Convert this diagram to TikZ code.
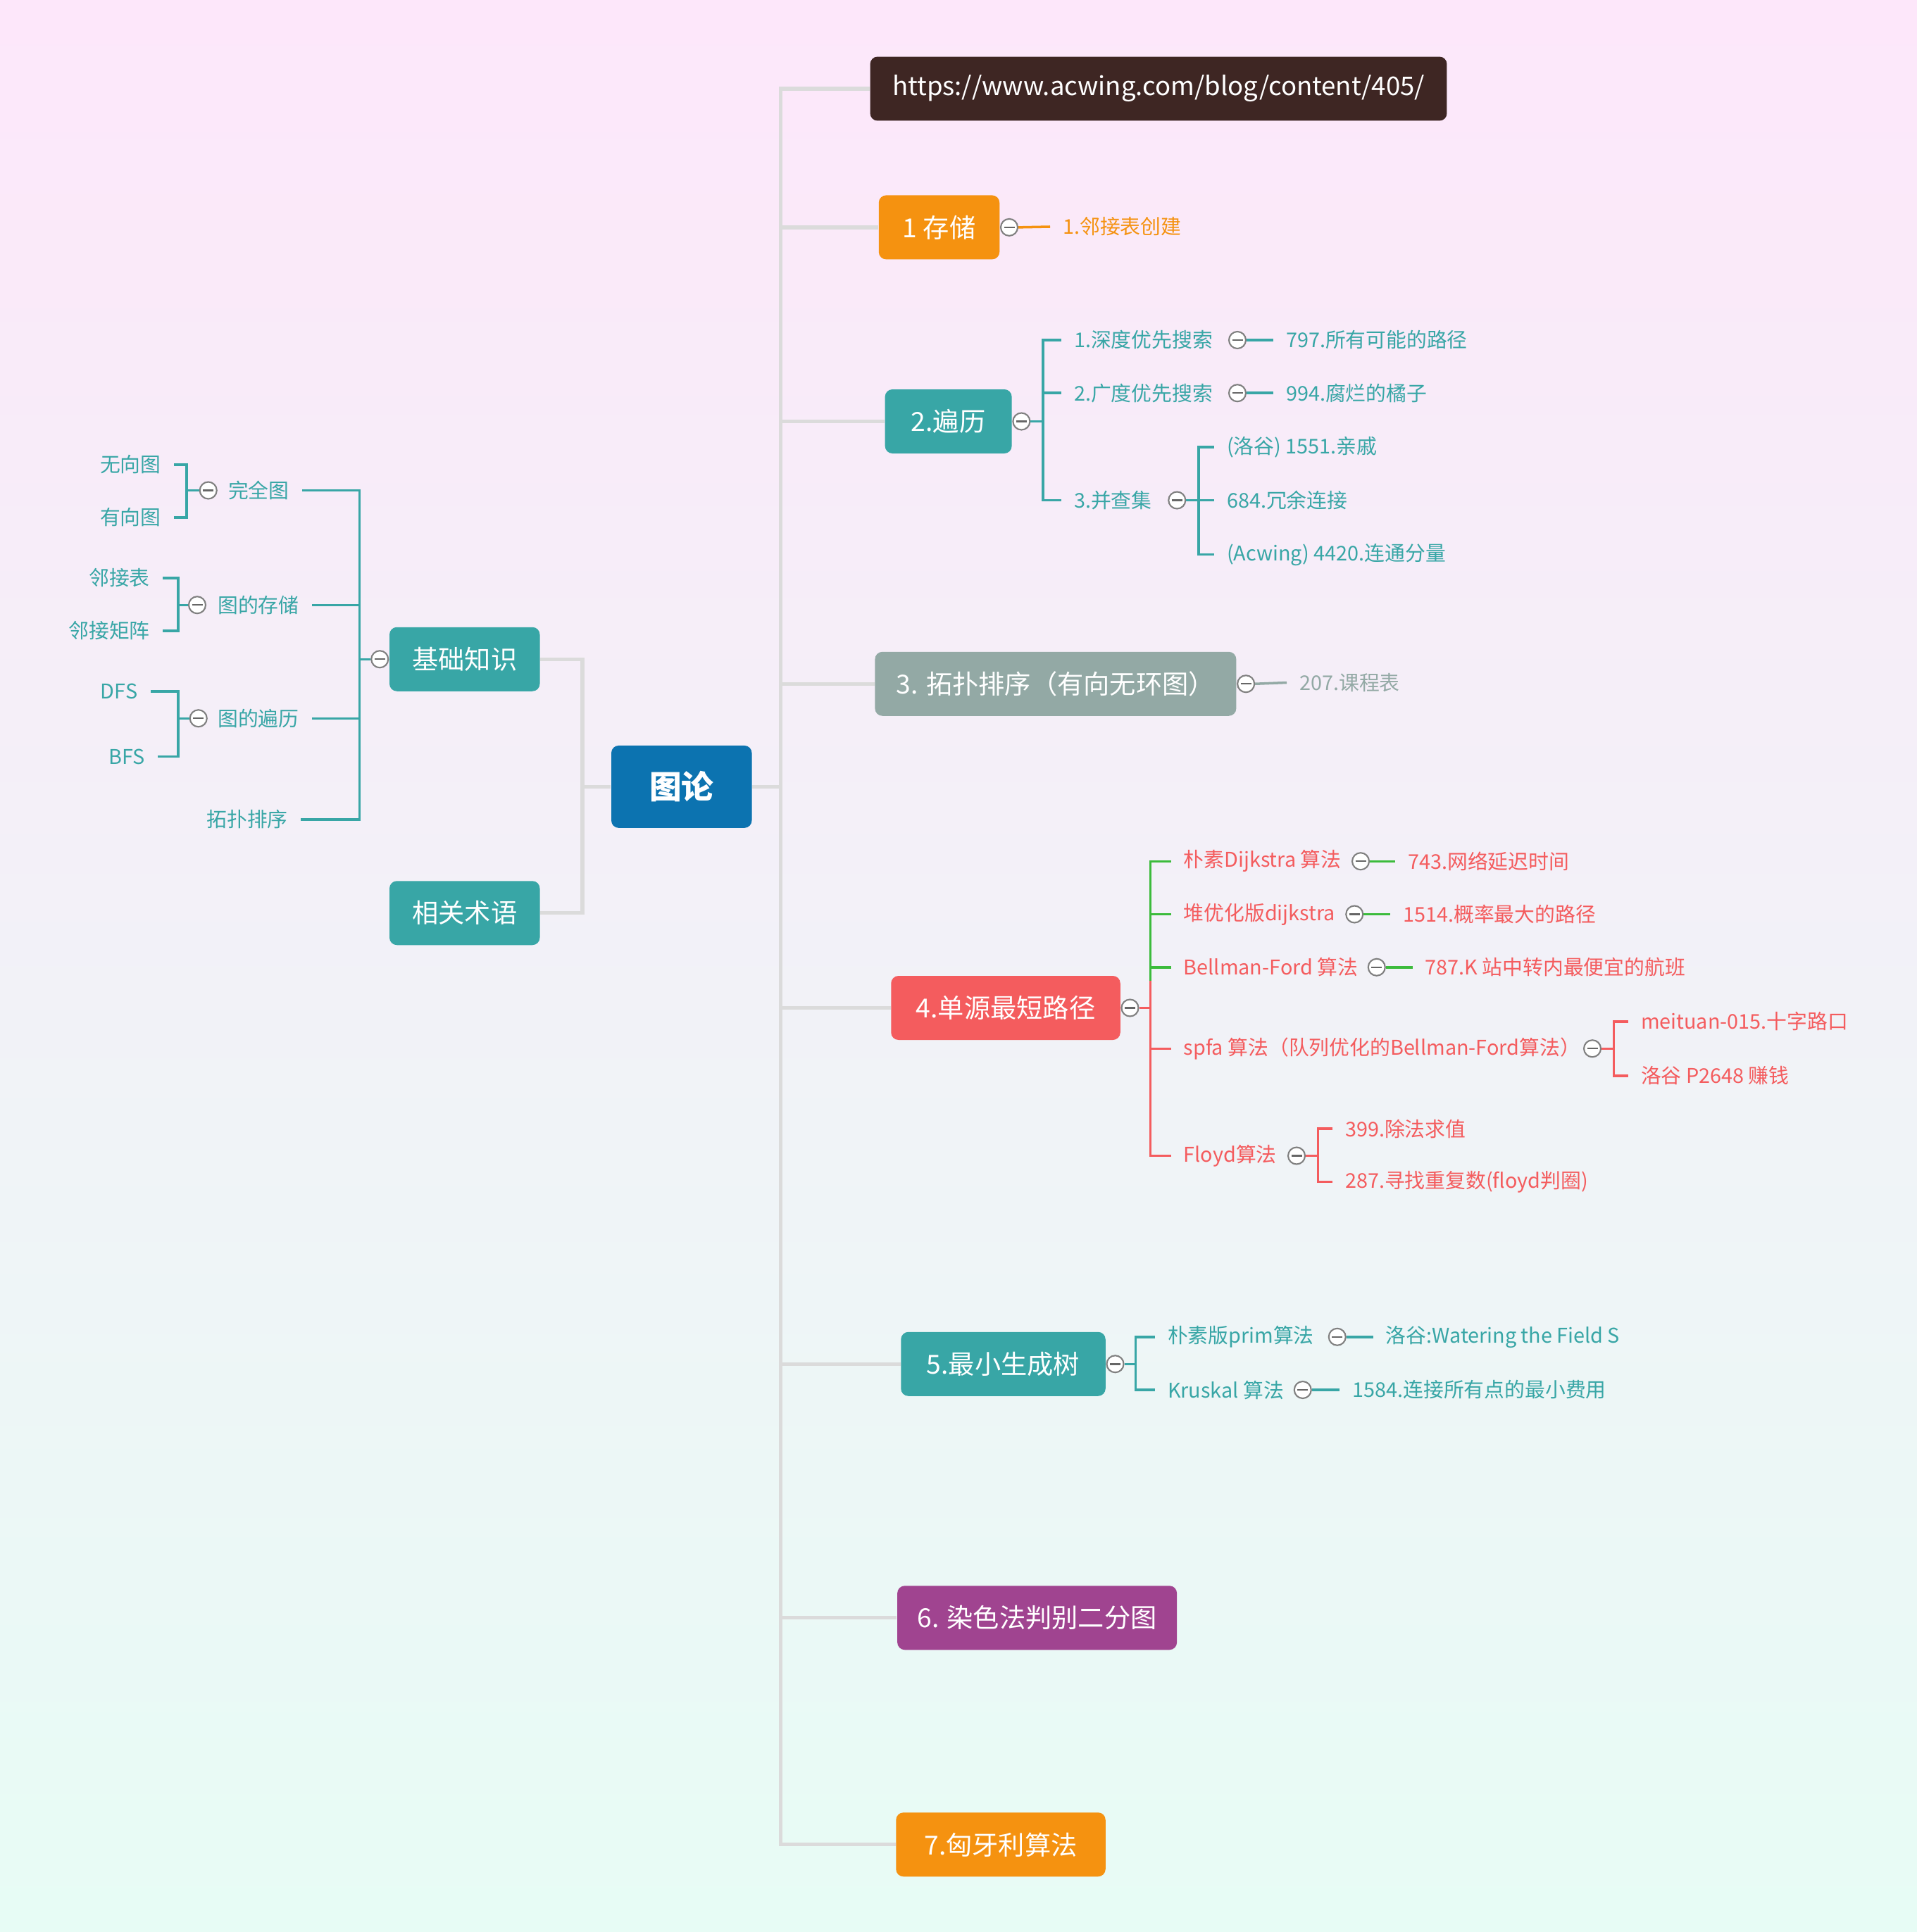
\documentclass[tikz,border=0pt]{standalone}
\usepackage{fontspec}
\setmainfont{Noto Sans CJK SC}
\usepackage{xcolor}
\usepackage{tikz}
\usetikzlibrary{positioning,calc}

\definecolor{bgpink}{RGB}{253,231,250}
\definecolor{bgmint}{RGB}{231,252,245}
\definecolor{trunkgray}{RGB}{219,219,219}
\definecolor{mteal}{RGB}{56,166,166}
\definecolor{morange}{RGB}{245,146,16}
\definecolor{mred}{RGB}{244,92,94}
\definecolor{mgreen}{RGB}{60,187,60}
\definecolor{mslate}{RGB}{147,169,165}
\definecolor{mpurple}{RGB}{160,68,144}
\definecolor{mblue}{RGB}{12,115,176}
\definecolor{mbrown}{RGB}{62,38,35}

\begin{document}
\begin{tikzpicture}[x=0.0175cm, y=-0.0175cm,
    topic/.style={rounded corners=3pt, text=white, font=\fontsize{10.6}{12}\selectfont, minimum height=0.91cm, inner xsep=0pt},
    leaf/.style={font=\fontsize{8.2}{10}\selectfont, inner xsep=5pt, inner ysep=1pt},
    fold/.style={circle, draw=gray, fill=white, line width=0.6pt, minimum size=0.24cm, inner sep=0pt,
        path picture={\draw[gray!80!black, line width=0.7pt] ([xshift=-0.075cm]path picture bounding box.center) -- ([xshift=0.075cm]path picture bounding box.center);}},
    trunk/.style={draw=trunkgray, line width=1.5pt},
    twig/.style={line width=1pt}]

    % Background
    \shade[top color=bgpink, bottom color=bgmint] (0,0) rectangle (1555.4,1568);
    \useasboundingbox (0,0) rectangle (1555.4,1568);

    % Root and main topics
    \node[topic, fill=mblue, minimum width=1.995cm, minimum height=1.17cm, font=\fontsize{13}{15}\selectfont\bfseries] (root) at (553,638.5) {图论};
    \node[topic, fill=mbrown, minimum width=8.19cm, font=\fontsize{10.4}{12}\selectfont] (url) at (940,72) {https://www.acwing.com/blog/content/405/};
    \node[topic, fill=morange, minimum width=1.715cm] (n1) at (762,184.5) {1 存储};
    \node[topic, fill=mteal, minimum width=1.80cm] (n2) at (769.5,342) {2.遍历};
    \node[topic, fill=mslate, minimum width=5.13cm] (n3) at (856.5,555) {3. 拓扑排序（有向无环图）};
    \node[topic, fill=mred, minimum width=3.255cm] (n4) at (816,818) {4.单源最短路径};
    \node[topic, fill=mteal, minimum width=2.905cm] (n5) at (814,1107) {5.最小生成树};
    \node[topic, fill=mpurple, minimum width=3.97cm] (n6) at (841.5,1313) {6. 染色法判别二分图};
    \node[topic, fill=morange, minimum width=2.975cm] (n7) at (812,1497) {7.匈牙利算法};
    \node[topic, fill=mteal, minimum width=2.135cm] (basic) at (377,535) {基础知识};
    \node[topic, fill=mteal, minimum width=2.135cm] (terms) at (377,741) {相关术语};

    % Trunk lines
    \draw[trunk] (root.east) -- ++(23,0) coordinate (rj);
    \foreach \n in {url,n1,n2,n3,n4,n5,n6,n7}
        \draw[trunk] (rj) |- (\n.west);
    \draw[trunk] (root.west) -- ++(-23,0) coordinate (lj);
    \foreach \n in {basic,terms}
        \draw[trunk] (lj) |- (\n.east);

    % 1 storage
    \node[fold, right=0pt of n1] (f1) {};
    \node[leaf, text=morange, anchor=west] (s1) at (852,184) {1.邻接表创建};
    \draw[twig, morange] (f1.east) -- (s1.west);

    % 2 traversal
    \node[fold, right=0pt of n2] (f2) {};
    \node[leaf, text=mteal, anchor=west] (t21) at (861,276) {1.深度优先搜索};
    \node[leaf, text=mteal, anchor=west] (t22) at (861,319) {2.广度优先搜索};
    \node[leaf, text=mteal, anchor=west] (t23) at (861,406) {3.并查集};
    \node[fold] (f21) at (1004,276) {};
    \node[fold] (f22) at (1004,319) {};
    \node[fold] (f23) at (955,406) {};
    \node[leaf, text=mteal, anchor=west] (a21) at (1033,276) {797.所有可能的路径};
    \node[leaf, text=mteal, anchor=west] (a22) at (1033,319) {994.腐烂的橘子};
    \node[leaf, text=mteal, anchor=west] (u1) at (985,363) {(洛谷) 1551.亲戚};
    \node[leaf, text=mteal, anchor=west] (u2) at (985,406) {684.冗余连接};
    \node[leaf, text=mteal, anchor=west] (u3) at (985,450) {(Acwing) 4420.连通分量};
    \draw[twig, mteal] (f2.east) -- ++(10,0) coordinate (j2);
    \foreach \t in {t21,t22,t23}
        \draw[twig, mteal] (j2) |- (\t.west);
    \draw[twig, mteal] (f21.east) -- (a21.west);
    \draw[twig, mteal] (f22.east) -- (a22.west);
    \draw[twig, mteal] (f23.east) -- ++(10,0) coordinate (j23);
    \foreach \u in {u1,u2,u3}
        \draw[twig, mteal] (j23) |- (\u.west);

    % 3 topological sort
    \node[fold, right=0pt of n3] (f3) {};
    \node[leaf, text=mslate, anchor=west] (s3) at (1044,554) {207.课程表};
    \draw[twig, mslate] (f3.east) -- (s3.west);

    % 4 shortest path
    \node[fold, right=0pt of n4] (f4) {};
    \node[leaf, text=mred, anchor=west] (d1) at (950,699) {朴素Dijkstra 算法};
    \node[leaf, text=mred, anchor=west] (d2) at (950,742) {堆优化版dijkstra};
    \node[leaf, text=mred, anchor=west] (d3) at (950,785) {Bellman-Ford 算法};
    \node[leaf, text=mred, anchor=west] (d4) at (950,851) {spfa 算法（队列优化的Bellman-Ford算法）};
    \node[leaf, text=mred, anchor=west] (d5) at (950,938) {Floyd算法};
    \node[fold] (fd1) at (1104,699) {};
    \node[fold] (fd2) at (1099,742) {};
    \node[fold] (fd3) at (1117,785) {};
    \node[fold] (fd4) at (1292,851) {};
    \node[fold] (fd5) at (1052,938) {};
    \node[leaf, text=mred, anchor=west] (q1) at (1132,699) {743.网络延迟时间};
    \node[leaf, text=mred, anchor=west] (q2) at (1128,742) {1514.概率最大的路径};
    \node[leaf, text=mred, anchor=west] (q3) at (1146,785) {787.K 站中转内最便宜的航班};
    \node[leaf, text=mred, anchor=west] (q41) at (1321,829) {meituan-015.十字路口};
    \node[leaf, text=mred, anchor=west] (q42) at (1321,873) {洛谷 P2648 赚钱};
    \node[leaf, text=mred, anchor=west] (q51) at (1081,916) {399.除法求值};
    \node[leaf, text=mred, anchor=west] (q52) at (1081,959) {287.寻找重复数(floyd判圈)};
    \draw[twig, mred] (f4.east) -- ++(9,0) coordinate (j4);
    \coordinate (jg) at ($(j4)+(0,-22)$);
    \foreach \d in {d1,d2,d3}
        \draw[twig, mgreen] (jg) |- (\d.west);
    \draw[twig, mred] (jg) -- (j4);
    \foreach \d in {d4,d5}
        \draw[twig, mred] (j4) |- (\d.west);
    \foreach \f/\q in {fd1/q1,fd2/q2,fd3/q3}
        \draw[twig, mgreen] (\f.east) -- (\q.west);
    \draw[twig, mred] (fd4.east) -- ++(10,0) coordinate (j44);
    \foreach \q in {q41,q42}
        \draw[twig, mred] (j44) |- (\q.west);
    \draw[twig, mred] (fd5.east) -- ++(10,0) coordinate (j45);
    \foreach \q in {q51,q52}
        \draw[twig, mred] (j45) |- (\q.west);

    % 5 minimum spanning tree
    \node[fold, right=0pt of n5] (f5) {};
    \node[leaf, text=mteal, anchor=west] (m1) at (937,1085) {朴素版prim算法};
    \node[leaf, text=mteal, anchor=west] (m2) at (937,1128) {Kruskal 算法};
    \node[fold] (fm1) at (1085,1085) {};
    \node[fold] (fm2) at (1057,1128) {};
    \node[leaf, text=mteal, anchor=west] (p1) at (1114,1085) {洛谷:Watering the Field S};
    \node[leaf, text=mteal, anchor=west] (p2) at (1087,1128) {1584.连接所有点的最小费用};
    \draw[twig, mteal] (f5.east) -- ++(9,0) coordinate (j5);
    \foreach \m in {m1,m2}
        \draw[twig, mteal] (j5) |- (\m.west);
    \draw[twig, mteal] (fm1.east) -- (p1.west);
    \draw[twig, mteal] (fm2.east) -- (p2.west);

    % Basics (left side)
    \node[fold, left=0pt of basic] (fb) {};
    \node[leaf, text=mteal, anchor=east] (k1) at (245,398) {完全图};
    \node[leaf, text=mteal, anchor=east] (k2) at (253,491) {图的存储};
    \node[leaf, text=mteal, anchor=east] (k3) at (253,583) {图的遍历};
    \node[leaf, text=mteal, anchor=east] (k4) at (244,665) {拓扑排序};
    \node[fold] (fk1) at (169,398) {};
    \node[fold] (fk2) at (160,491) {};
    \node[fold] (fk3) at (161,583) {};
    \node[leaf, text=mteal, anchor=east] (g11) at (141,377) {无向图};
    \node[leaf, text=mteal, anchor=east] (g12) at (141,420) {有向图};
    \node[leaf, text=mteal, anchor=east] (g21) at (132,469) {邻接表};
    \node[leaf, text=mteal, anchor=east] (g22) at (132,512) {邻接矩阵};
    \node[leaf, text=mteal, anchor=east] (g31) at (122,561) {DFS};
    \node[leaf, text=mteal, anchor=east] (g32) at (128,614) {BFS};
    \draw[twig, mteal] (fb.west) -- ++(-9,0) coordinate (jb);
    \foreach \k in {k1,k2,k3,k4}
        \draw[twig, mteal] (jb) |- (\k.east);
    \draw[twig, mteal] (fk1.west) -- ++(-10,0) coordinate (jk1);
    \draw[twig, mteal] (fk2.west) -- ++(-8,0) coordinate (jk2);
    \draw[twig, mteal] (fk3.west) -- ++(-9,0) coordinate (jk3);
    \foreach \j/\g in {jk1/g11,jk1/g12,jk2/g21,jk2/g22,jk3/g31,jk3/g32}
        \draw[twig, mteal] (\j) |- (\g.east);
\end{tikzpicture}
\end{document}
